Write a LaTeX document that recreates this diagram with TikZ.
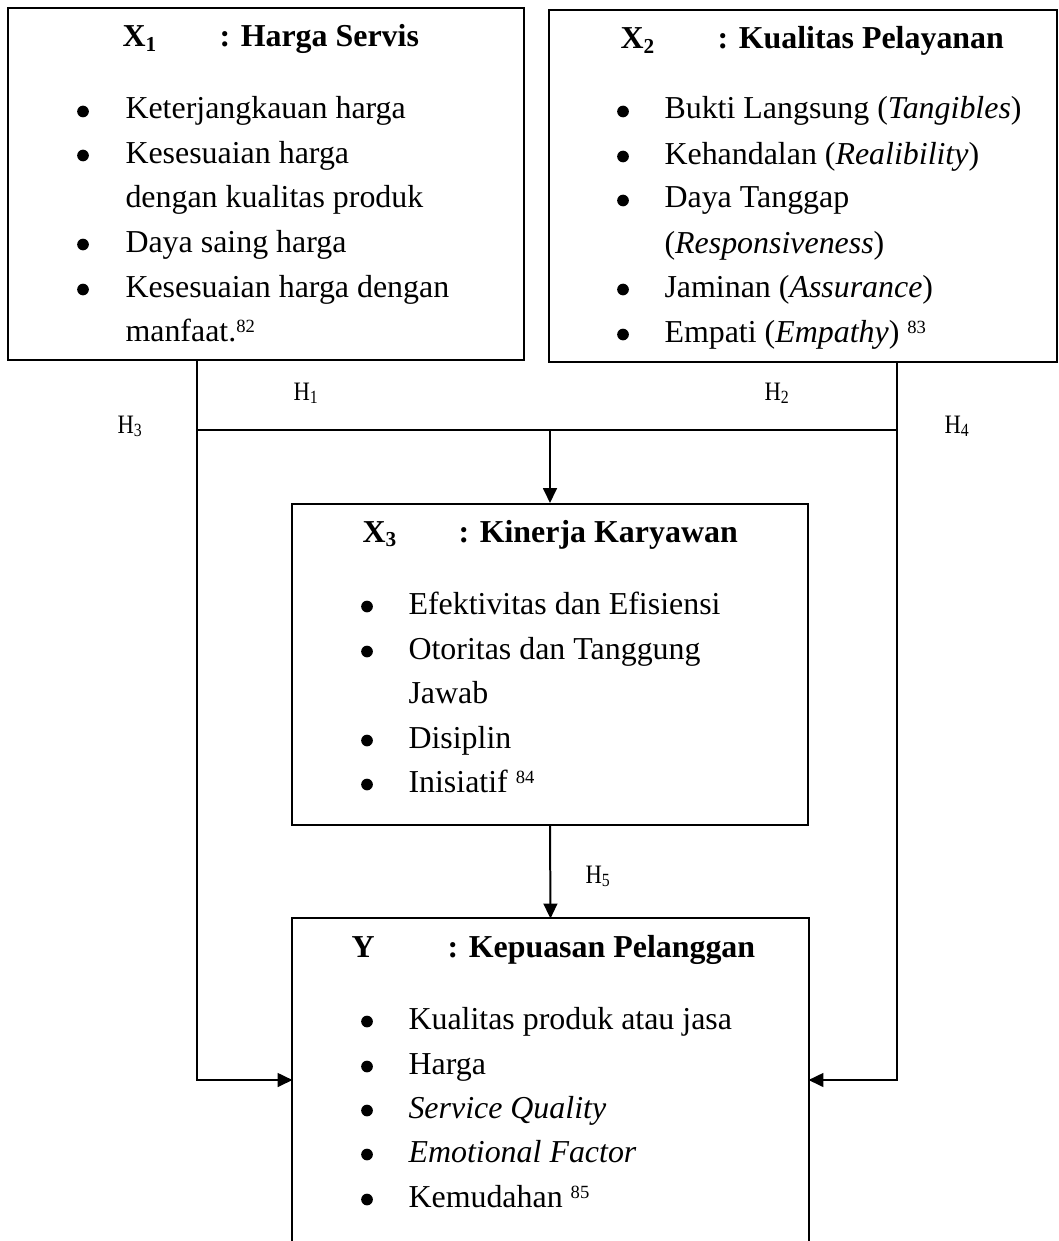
\documentclass[tikz,border=0pt]{standalone}
\usepackage{fontspec}
\setmainfont{Liberation Serif}
\newfontfamily\hfont[FakeStretch=0.85]{Liberation Serif}
\usetikzlibrary{arrows.meta,fit}

\newcommand{\fnref}[1]{\raisebox{0.55ex}{\fontsize{7}{8}\selectfont #1}}

\tikzset{
	box/.style={draw, line width=0.75pt, inner sep=0pt},
	ln/.style={anchor=base west, inner sep=0pt, font=\fontsize{12}{14}\selectfont},
	hd/.style={anchor=base west, inner sep=0pt, font=\fontsize{12}{14}\selectfont\bfseries},
	hyp/.style={anchor=base west, inner sep=0pt, font=\fontsize{10}{12}\hfont},
	conn/.style={line width=0.75pt},
	arr/.style={line width=0.75pt, -{Triangle[length=5.6pt,width=5.2pt]}}
}

\begin{document}
\begin{tikzpicture}[x=0.376pt,y=-0.376pt]

	\useasboundingbox (0,0) rectangle (1059,1241);

	% the four boxes
	\node[box, fit={(8,8) (524,360)}] (x1) {};
	\node[box, fit={(549,10) (1057,362)}] (x2) {};
	\node[box, fit={(292,504) (808,825)}] (x3) {};
	\node[inner sep=0pt, fit={(293,919) (808,1241)}] (y) {};
	\draw[conn] (y.south west) -- (y.north west) -- (y.north east) -- (y.south east);

	% X1
	\node[hd] (x1a) at (122,47) {X\textsubscript{1}};
	\node[hd] (x1b) at (219,47) {: Harga Servis};
	\node[ln] (x1i1) at (125,119) {Keterjangkauan harga};
	\node[ln] (x1i2) at (125,163) {Kesesuaian harga};
	\node[ln] (x1i3) at (125,208) {dengan kualitas produk};
	\node[ln] (x1i4) at (125,252) {Daya saing harga};
	\node[ln] (x1i5) at (125,297) {Kesesuaian harga dengan};
	\node[ln] (x1i6) at (125,341) {manfaat.\fnref{82}};
	\foreach \yy in {119,163,252,297}
		\fill (83,\yy-7.5) circle (2.2pt);

	% X2
	\node[hd] (x2a) at (620,49) {X\textsubscript{2}};
	\node[hd] (x2b) at (717,49) {: Kualitas Pelayanan};
	\node[ln] (x2i1) at (664,119) {Bukti Langsung (\textit{Tangibles})};
	\node[ln] (x2i2) at (664,164) {Kehandalan (\textit{Realibility})};
	\node[ln] (x2i3) at (664,208) {Daya Tanggap};
	\node[ln] (x2i4) at (664,253) {(\textit{Responsiveness})};
	\node[ln] (x2i5) at (664,297) {Jaminan (\textit{Assurance})};
	\node[ln] (x2i6) at (664,342) {Empati (\textit{Empathy}) \fnref{83}};
	\foreach \yy in {119,164,208,297,342}
		\fill (623,\yy-7.5) circle (2.2pt);

	% X3
	\node[hd] (x3a) at (362,542) {X\textsubscript{3}};
	\node[hd] (x3b) at (458,542) {: Kinerja Karyawan};
	\node[ln] (x3i1) at (408,614) {Efektivitas dan Efisiensi};
	\node[ln] (x3i2) at (408,659) {Otoritas dan Tanggung};
	\node[ln] (x3i3) at (408,703) {Jawab};
	\node[ln] (x3i4) at (408,748) {Disiplin};
	\node[ln] (x3i5) at (408,792) {Inisiatif \fnref{84}};
	\foreach \yy in {614,659,748,792}
		\fill (367,\yy-7.5) circle (2.2pt);

	% Y
	\node[hd] (ya) at (351,957) {Y};
	\node[hd] (yb) at (447,957) {: Kepuasan Pelanggan};
	\node[ln] (yi1) at (408,1029) {Kualitas produk atau jasa};
	\node[ln] (yi2) at (408,1074) {Harga};
	\node[ln] (yi3) at (408,1118) {\textit{Service Quality}};
	\node[ln] (yi4) at (408,1162) {\textit{Emotional Factor}};
	\node[ln] (yi5) at (408,1207) {Kemudahan \fnref{85}};
	\foreach \yy in {1029,1074,1118,1162,1207}
		\fill (367,\yy-7.5) circle (2.2pt);

	% connectors
	\coordinate (jl) at (197,430);
	\coordinate (jr) at (897,430);
	\draw[conn] (jl) -- (jr);
	\draw[arr] (x1.south -| jl) |- (y.west);
	\draw[arr] (x2.south -| jr) |- (y.east);
	\draw[arr] (jl -| x3.north) -- (x3.north);
	\draw[arr] (x3.south) -- (y.north);

	% hypotheses
	\node[hyp] (h1) at (293,400) {H\textsubscript{1}};
	\node[hyp] (h2) at (764,400) {H\textsubscript{2}};
	\node[hyp] (h3) at (117,433) {H\textsubscript{3}};
	\node[hyp] (h4) at (944,433) {H\textsubscript{4}};
	\node[hyp] (h5) at (585,883) {H\textsubscript{5}};

\end{tikzpicture}
\end{document}
